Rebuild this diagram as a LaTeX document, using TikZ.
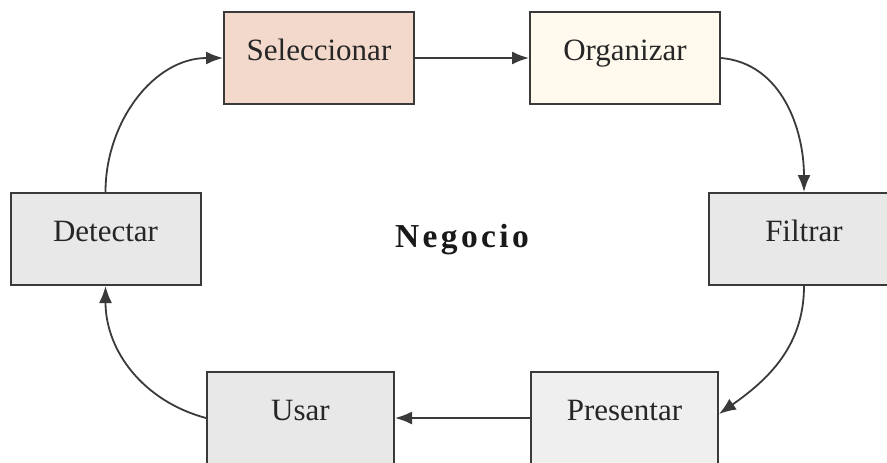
\documentclass[tikz,border=0pt]{standalone}
\usepackage{fontspec}
\setmainfont{Liberation Serif}
\newfontfamily\negfont[LetterSpace=10]{Liberation Serif}
\usetikzlibrary{arrows.meta}
\definecolor{selfill}{HTML}{F3D9CB}
\definecolor{orgfill}{HTML}{FFF9EE}
\definecolor{grayfill}{HTML}{E8E8E8}
\definecolor{prefill}{HTML}{EFEFEF}
\definecolor{edge}{HTML}{3A3A3A}
\tikzset{
  stepbox/.style={draw=edge, line width=2pt, minimum width=190pt, minimum height=92pt,
    inner sep=0pt, text height=22pt, text depth=18pt, font=\fontsize{31}{36}\selectfont, text=black!85},
  flow/.style={draw=edge, line width=1.8pt, -{Latex[length=17pt,width=13pt]}}
}
\begin{document}
\begin{tikzpicture}[x=1pt,y=-1pt]
\useasboundingbox (0,0) rectangle (887,463);
\clip (0,0) rectangle (887,463);
\node[stepbox, fill=selfill] (sel) at (319,58) {Seleccionar};
\node[stepbox, fill=orgfill] (org) at (625,58) {Organizar};
\node[stepbox, fill=grayfill] (det) at (105.5,239) {Detectar};
\node[stepbox, fill=grayfill] (fil) at (804,239) {Filtrar};
\node[stepbox, fill=grayfill, minimum width=187pt] (usa) at (300.5,418) {Usar};
\node[stepbox, fill=prefill, minimum width=187pt] (pre) at (624.5,418) {Presentar};
\node[font=\negfont\bfseries\fontsize{33.5}{36}\selectfont, anchor=base, text=black!90] (neg) at (462,247) {Negocio};
\coordinate (preIn) at ([yshift=4pt]pre.east);
\draw[flow] (det.north) to[out=90,in=180] (sel.west);
\draw[flow] (sel.east) -- (org.west);
\draw[flow] (org.east) to[out=-5,in=90] (fil.north);
\draw[flow] (fil.south) to[out=-90,in=35] (preIn);
\draw[flow] (pre.west) -- (usa.east);
\draw[flow] (usa.west) to[out=165,in=-90] (det.south);
\end{tikzpicture}
\end{document}
